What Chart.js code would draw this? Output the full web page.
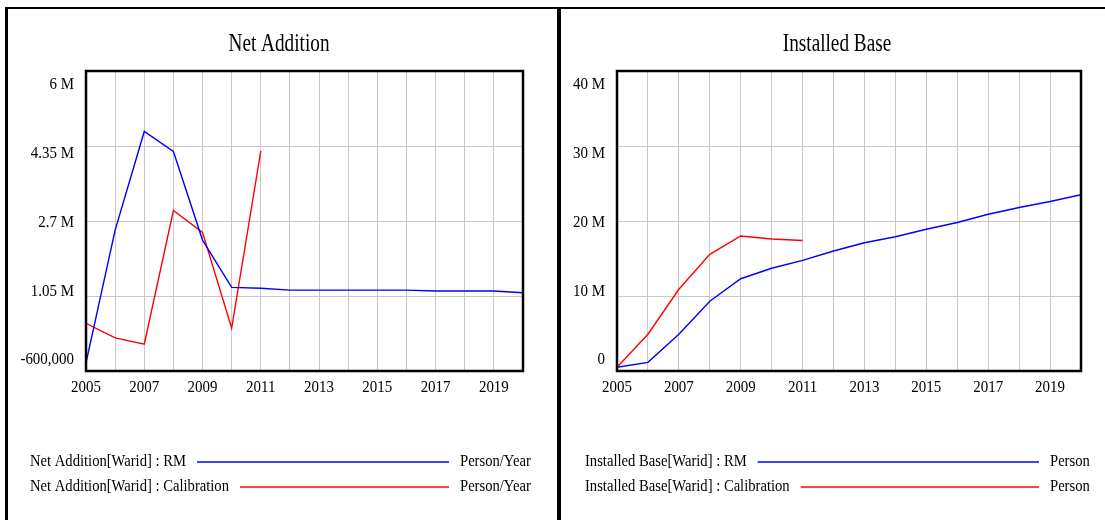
<!DOCTYPE html>
<html>
<head>
<meta charset="utf-8">
<script src="https://cdn.jsdelivr.net/npm/chart.js@4.4.1/dist/chart.umd.min.js"></script>
<style>
  html, body { margin: 0; padding: 0; background: #fff; }
  body { width: 1105px; height: 520px; position: relative; overflow: hidden; }
  canvas { position: absolute; top: 0; }
  #c1 { left: 0; }
  #c2 { left: 558px; }
  .bar { position: absolute; background: #000; z-index: 5; }
</style>
</head>
<body>
<canvas id="c1" width="558" height="520"></canvas>
<canvas id="c2" width="547" height="520"></canvas>
<div class="bar" style="left:5px;top:7px;width:1100px;height:2px;"></div>
<div class="bar" style="left:5px;top:7px;width:3px;height:513px;"></div>
<div class="bar" style="left:557px;top:7px;width:4px;height:513px;"></div>
<script>
// ---- data ----
const years = [2005, 2006, 2007, 2008, 2009, 2010, 2011, 2012, 2013, 2014, 2015, 2016, 2017, 2018, 2019, 2020];
const xTickLabels = ['2005', '2007', '2009', '2011', '2013', '2015', '2017', '2019'];

const netAdditionRM = [-420000, 2500000, 4670000, 4230000, 2280000, 1240000, 1220000, 1180000, 1180000, 1180000, 1180000, 1180000, 1160000, 1160000, 1160000, 1120000];
const netAdditionCalibration = [450000, 130000, -10000, 2930000, 2450000, 340000, 4240000];
const netAdditionYTicks = ['6 M', '4.35 M', '2.7 M', '1.05 M', '-600,000'];

const installedBaseRM = [500000, 1150000, 4900000, 9300000, 12300000, 13700000, 14750000, 16000000, 17100000, 17900000, 18900000, 19800000, 20900000, 21800000, 22600000, 23500000];
const installedBaseCalibration = [500000, 4900000, 10900000, 15550000, 18000000, 17600000, 17400000];
const installedBaseYTicks = ['40 M', '30 M', '20 M', '10 M', '0'];

const netAdditionLegend = ['Net Addition[Warid] : RM', 'Net Addition[Warid] : Calibration'];
const installedBaseLegend = ['Installed Base[Warid] : RM', 'Installed Base[Warid] : Calibration'];

// ---- helpers ----
const FONT = '"Liberation Serif", "Times New Roman", serif';
function pts(vals) { return vals.map((v, i) => ({ x: years[i], y: v })); }

function drawText(ctx, text, x, y, size, sx, align, baseline) {
  ctx.save();
  ctx.font = size + 'px ' + FONT;
  ctx.fillStyle = '#000';
  ctx.textAlign = align;
  ctx.textBaseline = baseline || 'middle';
  ctx.translate(x, y);
  ctx.scale(sx, 1);
  ctx.fillText(text, 0, 0);
  ctx.restore();
}

const vensimPlugin = {
  id: 'vensim',
  afterDraw(chart, args, o) {
    const ctx = chart.ctx;
    const a = chart.chartArea;
    // frame
    ctx.save();
    ctx.strokeStyle = '#000';
    ctx.lineWidth = 2.5;
    ctx.strokeRect(a.left, a.top, a.right - a.left, a.bottom - a.top);
    ctx.restore();
    // title
    drawText(ctx, o.title, o.titleX, 51, 26, 0.74, 'center', 'alphabetic');
    // y labels
    const ys = chart.scales.y;
    const yTop = ys.getPixelForValue(ys.max) + 14;
    const yBot = ys.getPixelForValue(ys.min) - 11;
    const n = o.yLabels.length;
    o.yLabels.forEach((t, i) => {
      drawText(ctx, t, a.left - 12, yTop + i * (yBot - yTop) / (n - 1), 17, 0.88, 'right');
    });
    // x labels
    const xs = chart.scales.x;
    xTickLabels.forEach(t => {
      drawText(ctx, t, xs.getPixelForValue(Number(t)), a.bottom + 17, 17, 0.88, 'center');
    });
    // legend
    o.legend.forEach((lab, i) => {
      const y = 462 + i * 25;
      ctx.save();
      ctx.font = '17px ' + FONT;
      const w = ctx.measureText(lab).width * 0.86;
      ctx.restore();
      drawText(ctx, lab, o.legendX, y, 17, 0.86, 'left');
      ctx.save();
      ctx.strokeStyle = o.colors[i];
      ctx.lineWidth = 1.5;
      ctx.beginPath();
      ctx.moveTo(o.legendX + w + 11, y);
      ctx.lineTo(o.lineEnd, y);
      ctx.stroke();
      ctx.restore();
      drawText(ctx, o.unit, o.lineEnd + 11, y, 17, 0.86, 'left');
    });
  }
};

function makeChart(id, cfg) {
  return new Chart(document.getElementById(id), {
    type: 'line',
    data: {
      datasets: [
        { data: pts(cfg.rm), borderColor: '#0000ff', borderWidth: 1.4, pointRadius: 0, tension: 0, fill: false },
        { data: pts(cfg.cal), borderColor: '#ff0000', borderWidth: 1.4, pointRadius: 0, tension: 0, fill: false }
      ]
    },
    options: {
      responsive: false,
      animation: false,
      devicePixelRatio: 1,
      layout: { padding: cfg.padding },
      plugins: {
        legend: { display: false },
        title: { display: false },
        tooltip: { enabled: false },
        vensim: {
          title: cfg.title, titleX: 279, yLabels: cfg.yTicks,
          legend: cfg.legend, colors: ['#0000ff', '#ff0000'], unit: cfg.unit,
          legendX: cfg.legendX, lineEnd: cfg.lineEnd
        }
      },
      scales: {
        x: {
          type: 'linear', min: 2005, max: 2020,
          ticks: { display: false, stepSize: 1 },
          grid: { color: '#c8c8c8', lineWidth: 1, drawTicks: false },
          border: { display: false }
        },
        y: {
          type: 'linear', min: cfg.yMin, max: cfg.yMax,
          ticks: { display: false, stepSize: cfg.yStep },
          grid: { color: '#c8c8c8', lineWidth: 1, drawTicks: false },
          border: { display: false }
        }
      }
    },
    plugins: [vensimPlugin]
  });
}

makeChart('c1', {
  rm: netAdditionRM, cal: netAdditionCalibration, yTicks: netAdditionYTicks,
  yMin: -600000, yMax: 6000000, yStep: 1650000,
  title: 'Net Addition', legend: netAdditionLegend, unit: 'Person/Year',
  legendX: 30, lineEnd: 449,
  padding: { left: 86, top: 71, right: 35, bottom: 149 }
});

makeChart('c2', {
  rm: installedBaseRM, cal: installedBaseCalibration, yTicks: installedBaseYTicks,
  yMin: 0, yMax: 40000000, yStep: 10000000,
  title: 'Installed Base', legend: installedBaseLegend, unit: 'Person',
  legendX: 27, lineEnd: 481,
  padding: { left: 59, top: 71, right: 24, bottom: 149 }
});
</script>
</body>
</html>
